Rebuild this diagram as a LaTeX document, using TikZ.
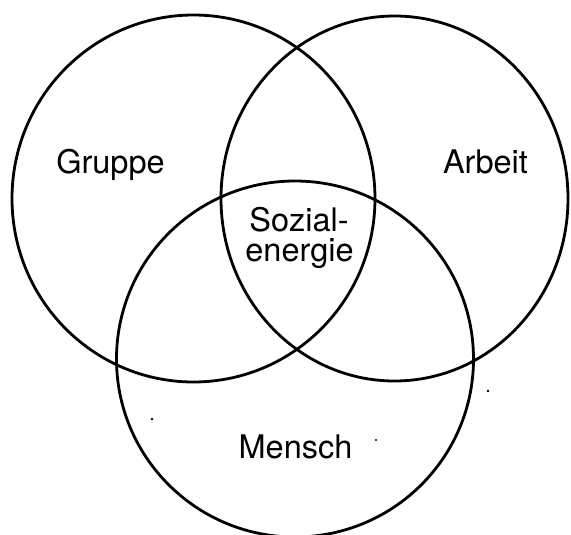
\documentclass[tikz,border=0pt]{standalone}
\usepackage{fontspec}
\setmainfont{TeX Gyre Heros}
\begin{document}
\begin{tikzpicture}[x=1pt,y=-1pt,
  ring/.style={line width=2.8pt},
  lbl/.style={font=\fontsize{32.5}{35}\selectfont, inner sep=0pt, anchor=base},
  speck/.style={fill=black}]
\useasboundingbox (0,0) rectangle (571,535);
% circles
\draw[ring] (193.5,198.5) ellipse [x radius=181.5pt, y radius=183.5pt];
\draw[ring] (394.5,198.5) ellipse [x radius=173.5pt, y radius=182.5pt];
\draw[ring] (295,359) ellipse [x radius=178.5pt, y radius=178pt];
% labels
\node[lbl] (gruppe) at (110.5,173) {Gruppe};
\node[lbl] (arbeit) at (485.5,173) {Arbeit};
\node[lbl] (sozial) at (299,231) {Sozial-};
\node[lbl] (energie) at (299.5,261) {energie};
\node[lbl] (mensch) at (295.5,458) {Mensch};
% specks
\fill[speck] (152,419) circle [radius=1.3pt];
\fill[speck] (376,440) circle [radius=1.1pt];
\fill[speck] (488,391) circle [radius=1.3pt];
\end{tikzpicture}
\end{document}
